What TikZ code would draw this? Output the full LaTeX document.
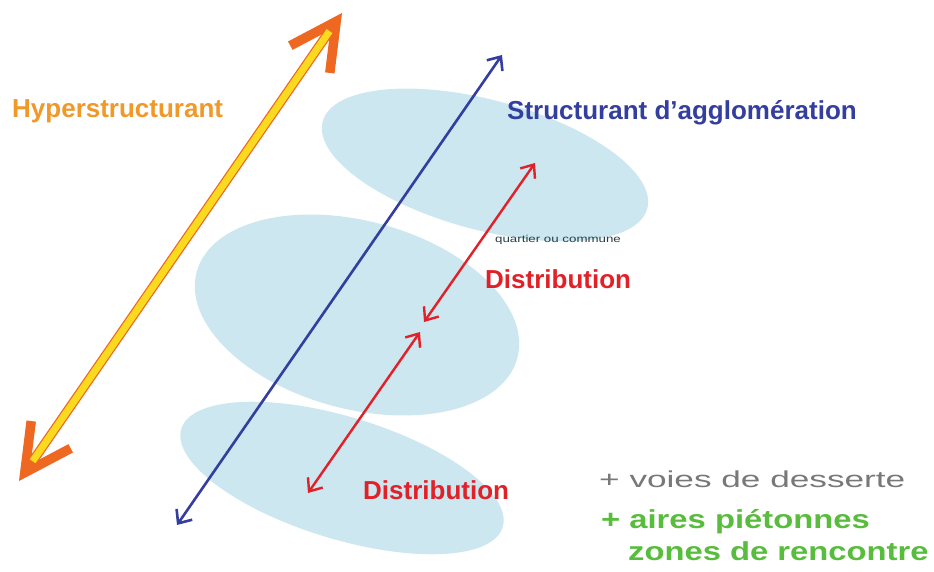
\documentclass[tikz,border=0pt]{standalone}
\usepackage{fontspec}
\setmainfont{Liberation Sans}
\usepackage{tikz}
\usetikzlibrary{arrows.meta,positioning,calc}
\usepackage{xcolor}
\definecolor{zoneblue}{RGB}{204,231,239}
\definecolor{hyperorange}{RGB}{238,104,34}
\definecolor{hyperyellow}{RGB}{250,218,30}
\definecolor{hypertext}{RGB}{240,152,40}
\definecolor{aggloblue}{RGB}{52,62,158}
\definecolor{distred}{RGB}{226,32,40}
\definecolor{dessgray}{RGB}{120,120,120}
\definecolor{pietgreen}{RGB}{88,188,60}
\definecolor{quartgray}{RGB}{40,60,70}

\tikzset{
  zone/.style={fill=zoneblue},
  biglabel/.style={font=\fontsize{26}{30}\selectfont\bfseries, inner sep=0pt, anchor=base west},
  sidelabel/.style={inner sep=0pt, anchor=base west},
  redarrow/.style={distred, line width=2.4pt, {Straight Barb[length=11pt,width=18pt]}-{Straight Barb[length=11pt,width=18pt]}},
  bluearrow/.style={aggloblue, line width=2.6pt, {Straight Barb[length=11pt,width=19pt]}-{Straight Barb[length=11pt,width=19pt]}}
}

\begin{document}
\begin{tikzpicture}[x=1pt,y=-1pt]
\fill[white] (0,0) rectangle (934,572);
\useasboundingbox (0,0) rectangle (934,572);

% zones
\fill[zone, rotate around={-15:(485,165)}] (485,165) ellipse (168 and 65);
\fill[zone, rotate around={-15:(357,315)}] (357,315) ellipse (166 and 94);
\fill[zone, rotate around={-17:(342,478)}] (342,478) ellipse (168 and 61);

% end points
\coordinate (hypLow) at (19,481);
\coordinate (hypHigh) at (342,13);
\coordinate (aggLow) at (177,525);
\coordinate (aggHigh) at (502,55);
\coordinate (distTop) at (535,163);
\coordinate (distMid) at (424,322);
\coordinate (distMidB) at (420,332);
\coordinate (distBot) at (308,493);

% hyperstructurant
\draw[hyperorange, line width=9.5pt, {Straight Barb[length=46pt,width=48pt]}-{Straight Barb[length=46pt,width=48pt]}] (hypLow) -- (hypHigh);
\draw[hyperyellow, line width=7pt, shorten <=24pt, shorten >=22pt] (hypLow) -- (hypHigh);

% agglomeration
\draw[bluearrow] (aggLow) -- (aggHigh);

% distribution
\draw[redarrow] (distMid) -- (distTop);
\draw[redarrow] (distBot) -- (distMidB);

% labels
\node[biglabel, text=hypertext] (hyper) at (12,118) {Hyperstructurant};
\node[biglabel, text=aggloblue] (agglo) at (507,120) {Structurant d’agglomération};
\node[biglabel, text=distred] (distHigh) at (485,288) {Distribution};
\node[biglabel, text=distred] (distLow) at (363,499) {Distribution};
\node[sidelabel, text=quartgray, font=\fontsize{10}{12}\selectfont] (quartier) at (495,243) {\scalebox{1.33}[1]{quartier ou commune}};

\node[sidelabel, text=dessgray, font=\fontsize{23}{26}\selectfont] (desserte) at (599,487) {\scalebox{1.53}[1]{+ voies de desserte}};
\node[sidelabel, text=pietgreen, font=\fontsize{26}{30}\selectfont\bfseries] (aires) at (601,528) {\scalebox{1.26}[1]{+ aires piétonnes}};
\node[sidelabel, text=pietgreen, font=\fontsize{26}{30}\selectfont\bfseries] (rencontre) at (628,560) {\scalebox{1.26}[1]{zones de rencontre}};
\end{tikzpicture}
\end{document}
